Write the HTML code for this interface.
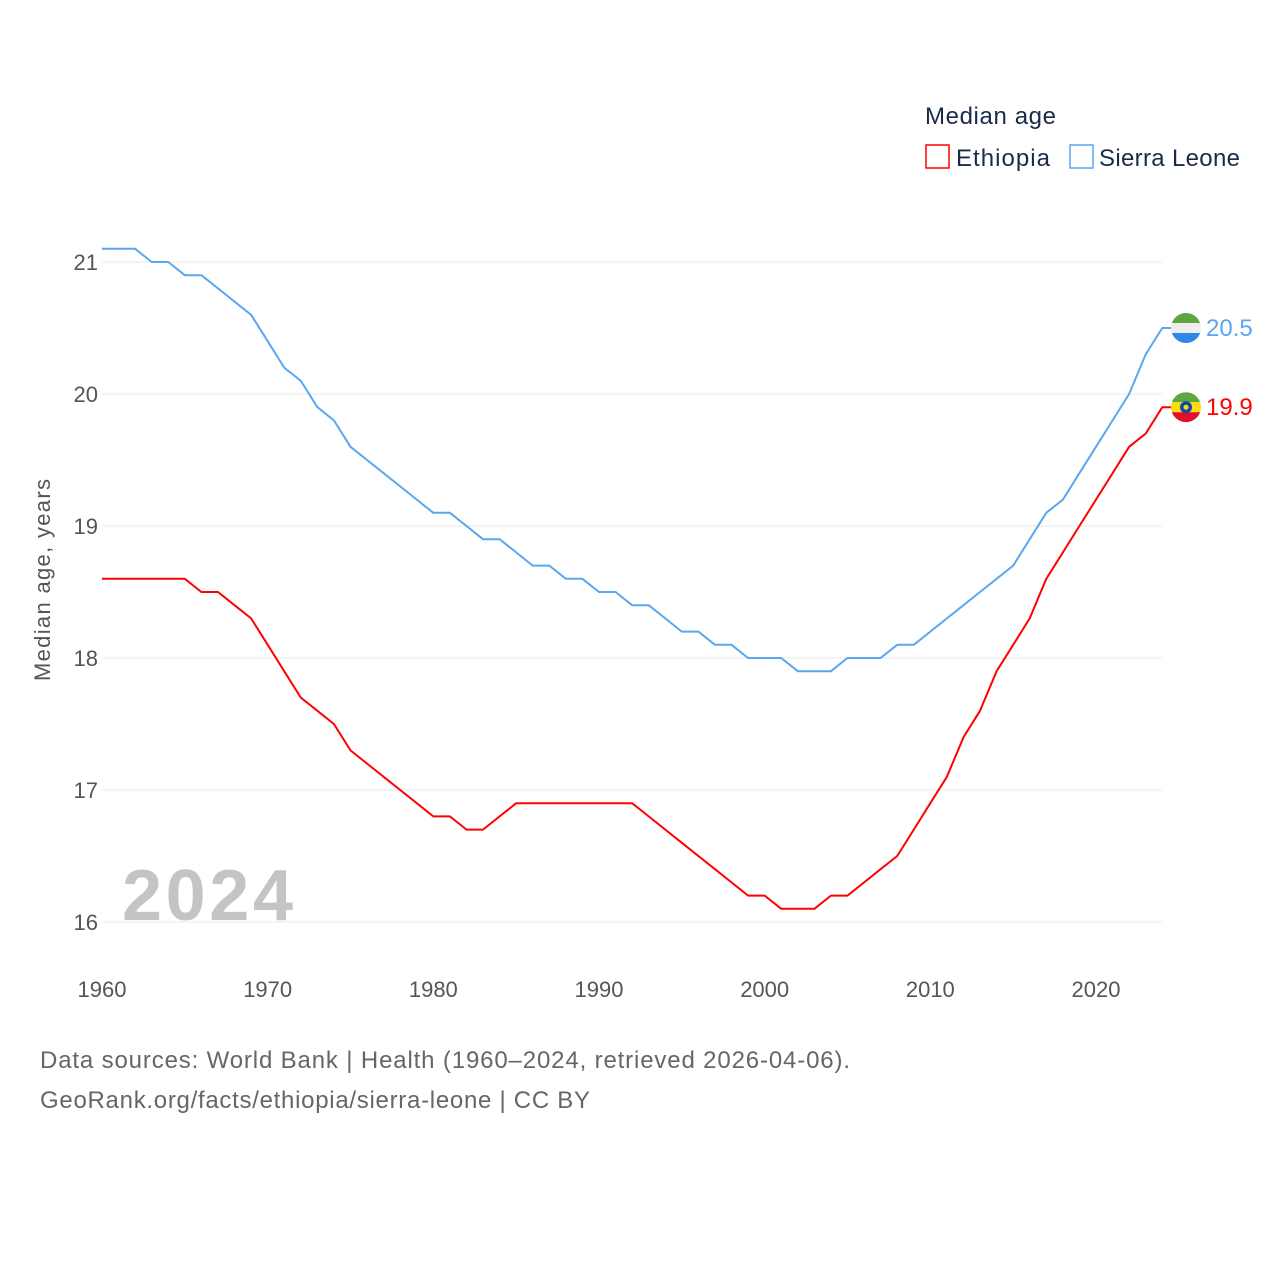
<!DOCTYPE html>
<html><head><meta charset="utf-8"><style>
body{margin:0;background:#fff;font-family:"Liberation Sans",sans-serif}
svg text{font-family:"Liberation Sans",sans-serif}
</style></head><body>
<svg id="chart" width="1280" height="1280" viewBox="0 0 1280 1280" xmlns="http://www.w3.org/2000/svg">
<text x="925" y="124" font-size="24" fill="#1a2b4a" textLength="131">Median age</text>
<g>
<rect x="926" y="145" width="23" height="23" fill="none" stroke="#ff0000" stroke-width="1.5"/>
<text x="956" y="166" font-size="24" fill="#1a2b4a" textLength="94">Ethiopia</text></g>
<g>
<rect x="1070" y="145" width="23" height="23" fill="none" stroke="#5aa6f0" stroke-width="1.5"/>
<text x="1099" y="166" font-size="24" fill="#1a2b4a" textLength="141">Sierra Leone</text></g>
<g id="grid"></g>
<g id="yticks"></g>
<g id="xticks"></g>
<text transform="translate(50,580) rotate(-90)" text-anchor="middle" font-size="22" fill="#555" textLength="202">Median age, years</text>
<text x="122" y="920" font-size="72" font-weight="bold" fill="#c4c4c4" textLength="171">2024</text>
<g id="series"></g>
<text x="40" y="1068" font-size="24" fill="#666" textLength="810">Data sources: World Bank | Health (1960–2024, retrieved 2026-04-06).</text>
<text x="40" y="1108" font-size="24" fill="#666" textLength="550">GeoRank.org/facts/ethiopia/sierra-leone | CC BY</text>
</svg>
<script>
const years=[];for(let y=1960;y<=2024;y++)years.push(y);
const sierraLeone=[21.1,21.1,21.1,21.0,21.0,20.9,20.9,20.8,20.7,20.6,20.4,20.2,20.1,19.9,19.8,19.6,19.5,19.4,19.3,19.2,19.1,19.1,19.0,18.9,18.9,18.8,18.7,18.7,18.6,18.6,18.5,18.5,18.4,18.4,18.3,18.2,18.2,18.1,18.1,18.0,18.0,18.0,17.9,17.9,17.9,18.0,18.0,18.0,18.1,18.1,18.2,18.3,18.4,18.5,18.6,18.7,18.9,19.1,19.2,19.4,19.6,19.8,20.0,20.3,20.5];
const ethiopia=[18.6,18.6,18.6,18.6,18.6,18.6,18.5,18.5,18.4,18.3,18.1,17.9,17.7,17.6,17.5,17.3,17.2,17.1,17.0,16.9,16.8,16.8,16.7,16.7,16.8,16.9,16.9,16.9,16.9,16.9,16.9,16.9,16.9,16.8,16.7,16.6,16.5,16.4,16.3,16.2,16.2,16.1,16.1,16.1,16.2,16.2,16.3,16.4,16.5,16.7,16.9,17.1,17.4,17.6,17.9,18.1,18.3,18.6,18.8,19.0,19.2,19.4,19.6,19.7,19.9];
const yTicks=[16,17,18,19,20,21];
const xTicks=[1960,1970,1980,1990,2000,2010,2020];
const NS="http://www.w3.org/2000/svg";
const xs=y=>102+(y-1960)*(994/60);
const ys=v=>922-(v-16)*132;
function mk(t,a,p){const e=document.createElementNS(NS,t);for(const k in a)e.setAttribute(k,a[k]);p.appendChild(e);return e;}
const grid=document.getElementById('grid'),yt=document.getElementById('yticks'),xt=document.getElementById('xticks'),ser=document.getElementById('series');
yTicks.forEach(v=>{
 const l=mk('line',{x1:102,x2:1162,y1:ys(v),y2:ys(v),stroke:'#e8e8e8','stroke-width':1},grid);
 
 
 const t=mk('text',{x:98,y:ys(v)+8,'text-anchor':'end','font-size':22,fill:'#555'},yt);t.textContent=v;
 
 
});
xTicks.forEach(v=>{
 const t=mk('text',{x:xs(v),y:997,'text-anchor':'middle','font-size':22,fill:'#555'},xt);t.textContent=v;
 
 
});
function line(vals,color,name){
 let d=vals.map((v,i)=>(i?'L':'M')+xs(years[i]).toFixed(1)+','+ys(v).toFixed(1)).join(' ');
 d+=' L1172,'+ys(vals[vals.length-1]).toFixed(1);
 const p=mk('path',{d:d,fill:'none',stroke:color,'stroke-width':2,'stroke-linejoin':'round'},ser);
 
 
 const v=vals[vals.length-1];
 const t=mk('text',{x:1206,y:ys(v)+8,'font-size':24,fill:color},ser);t.textContent=v.toFixed(1);
 
 
 return ys(v);
}
function flag(cy,cols,name,emb){
 const g=mk('g',{},ser);
 
 
 const id='c'+name;
 const cp=mk('clipPath',{id:id},g);mk('circle',{cx:1186,cy:cy,r:15},cp);
 cols.forEach((c,i)=>mk('rect',{x:1171,y:cy-15+i*10,width:30,height:10,fill:c,'clip-path':'url(#'+id+')'},g));
 if(emb){mk('circle',{cx:1186,cy:cy,r:6,fill:'#0f47af'},g);mk('circle',{cx:1186,cy:cy,r:2.5,fill:'#fcdd09'},g);}
}
const sy=line(sierraLeone,'#5aa6f0','sierra-leone');
const ey=line(ethiopia,'#ff0000','ethiopia');
flag(sy,['#5fa640','#eeeeee','#2f88e6'],'sierra-leone',false);
flag(ey,['#5fa640','#fcdd09','#e0102a'],'ethiopia',true);
</script>
</body></html>
